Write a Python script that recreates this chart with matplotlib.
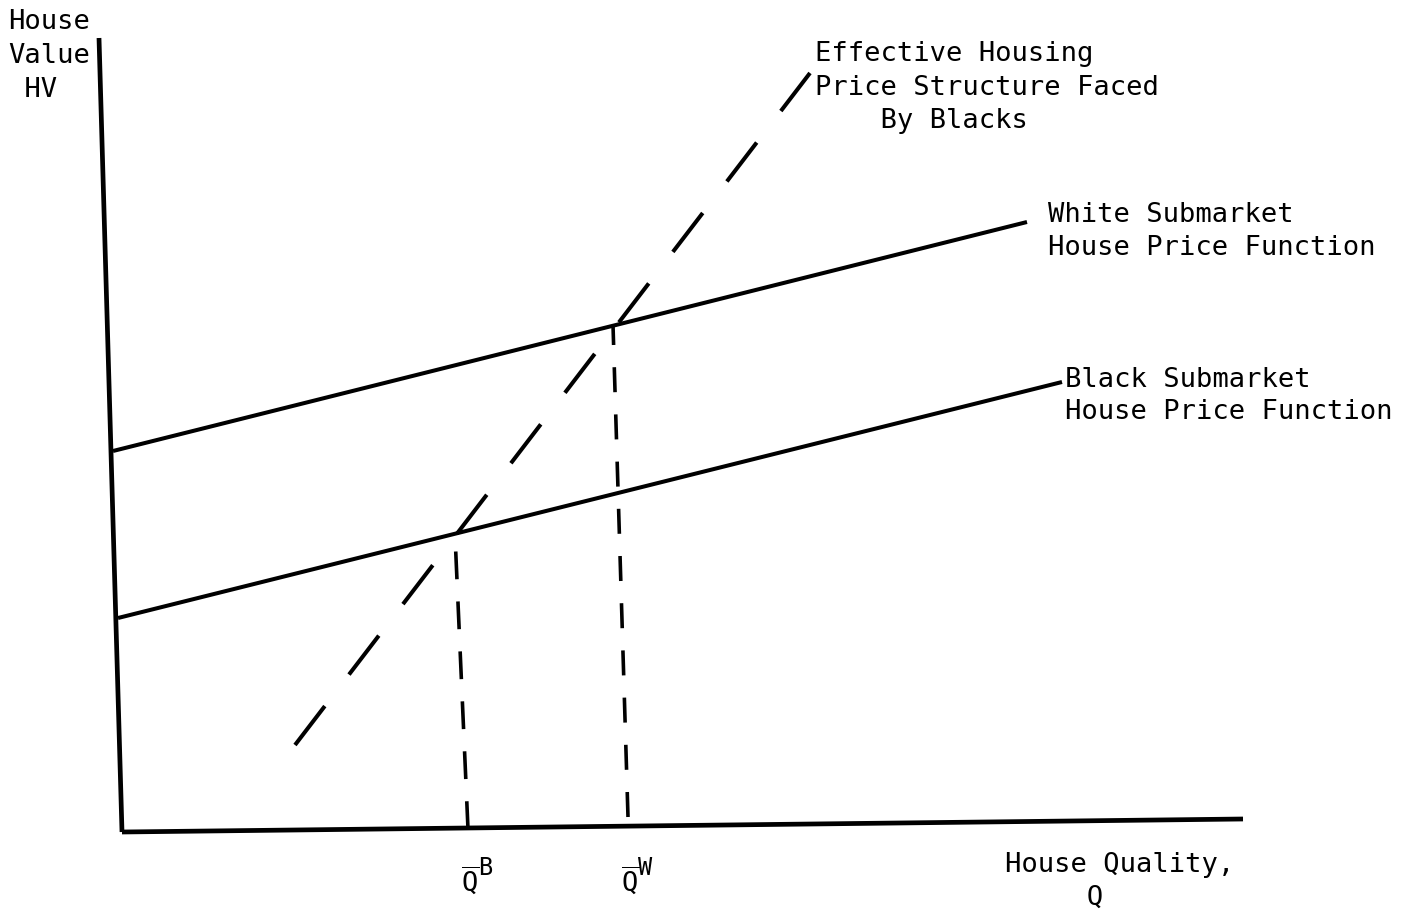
import matplotlib
matplotlib.use("Agg")
import matplotlib.pyplot as plt

plt.rcParams['font.family'] = ['DejaVu Sans Mono']
plt.rcParams['mathtext.fontset'] = 'custom'
plt.rcParams['mathtext.rm'] = 'DejaVu Sans Mono'
plt.rcParams['mathtext.it'] = 'DejaVu Sans Mono'
plt.rcParams['lines.scale_dashes'] = False
plt.rcParams['lines.solid_capstyle'] = 'butt'
plt.rcParams['lines.dash_capstyle'] = 'butt'

# Diagram geometry in (Q, HV) units, origin at the axes corner
y_axis_q, y_axis_hv = [-23, 0], [794, 0]
x_axis_q, x_axis_hv = [0, 1121], [0, 13]
white_q, white_hv = [-9, 905], [381, 610]
black_q, black_hv = [-4, 940], [214, 450]
effective_q, effective_hv = [173, 688], [87, 759]
qb_q, qb_hv = [333, 346], [297, 3]
qw_q, qw_hv = [491, 506], [507, 15]

hv_label = ["House", "Value", " HV"]
effective_label = ["Effective Housing", "Price Structure Faced", "    By Blacks"]
white_label = ["White Submarket", "House Price Function"]
black_label = ["Black Submarket", "House Price Function"]
q_label = ["House Quality,", "     Q"]
qbar_sups = ["B", "W"]

fig = plt.figure(figsize=(14.11, 9.16), dpi=100)
ax = fig.add_axes([0, 0, 1, 1])
ax.set_xlim(-122, 1289)
ax.set_ylim(-84, 832)
ax.axis('off')

k = dict(color='black')
ax.plot(y_axis_q, y_axis_hv, lw=3.4, **k)
ax.plot(x_axis_q, x_axis_hv, lw=3.4, **k)
ax.plot(white_q, white_hv, lw=2.9, **k)
ax.plot(black_q, black_hv, lw=2.9, **k)
ax.plot(effective_q, effective_hv, lw=2.9, dashes=(35.3, 28.6), **k)
ax.plot(qb_q[::-1], qb_hv[::-1], lw=2.6, dashes=(20, 16), **k)
ax.plot(qw_q[::-1], qw_hv[::-1], lw=2.6, dashes=(18, 16), **k)

fs = 19.5
def lines(x, ys, texts):
    for y, t in zip(ys, texts):
        ax.text(x, y, t, fontsize=fs, ha='left', va='center')

lines(-114, [810, 776, 742], hv_label)
lines(693, [778, 744, 711], effective_label)
lines(926, [617, 584], white_label)
lines(943, [452, 420], black_label)
lines(883, [-33, -66], q_label)

for qx, sup in zip([qb_q[1], qw_q[1]], qbar_sups):
    ax.text(qx + 2, -49, r'$\overline{\mathrm{Q}}$', fontsize=fs, ha='center', va='center')
    ax.text(qx + 10, -36, sup, fontsize=17, ha='left', va='center')

fig.savefig("out.png", dpi=100, facecolor='white')
